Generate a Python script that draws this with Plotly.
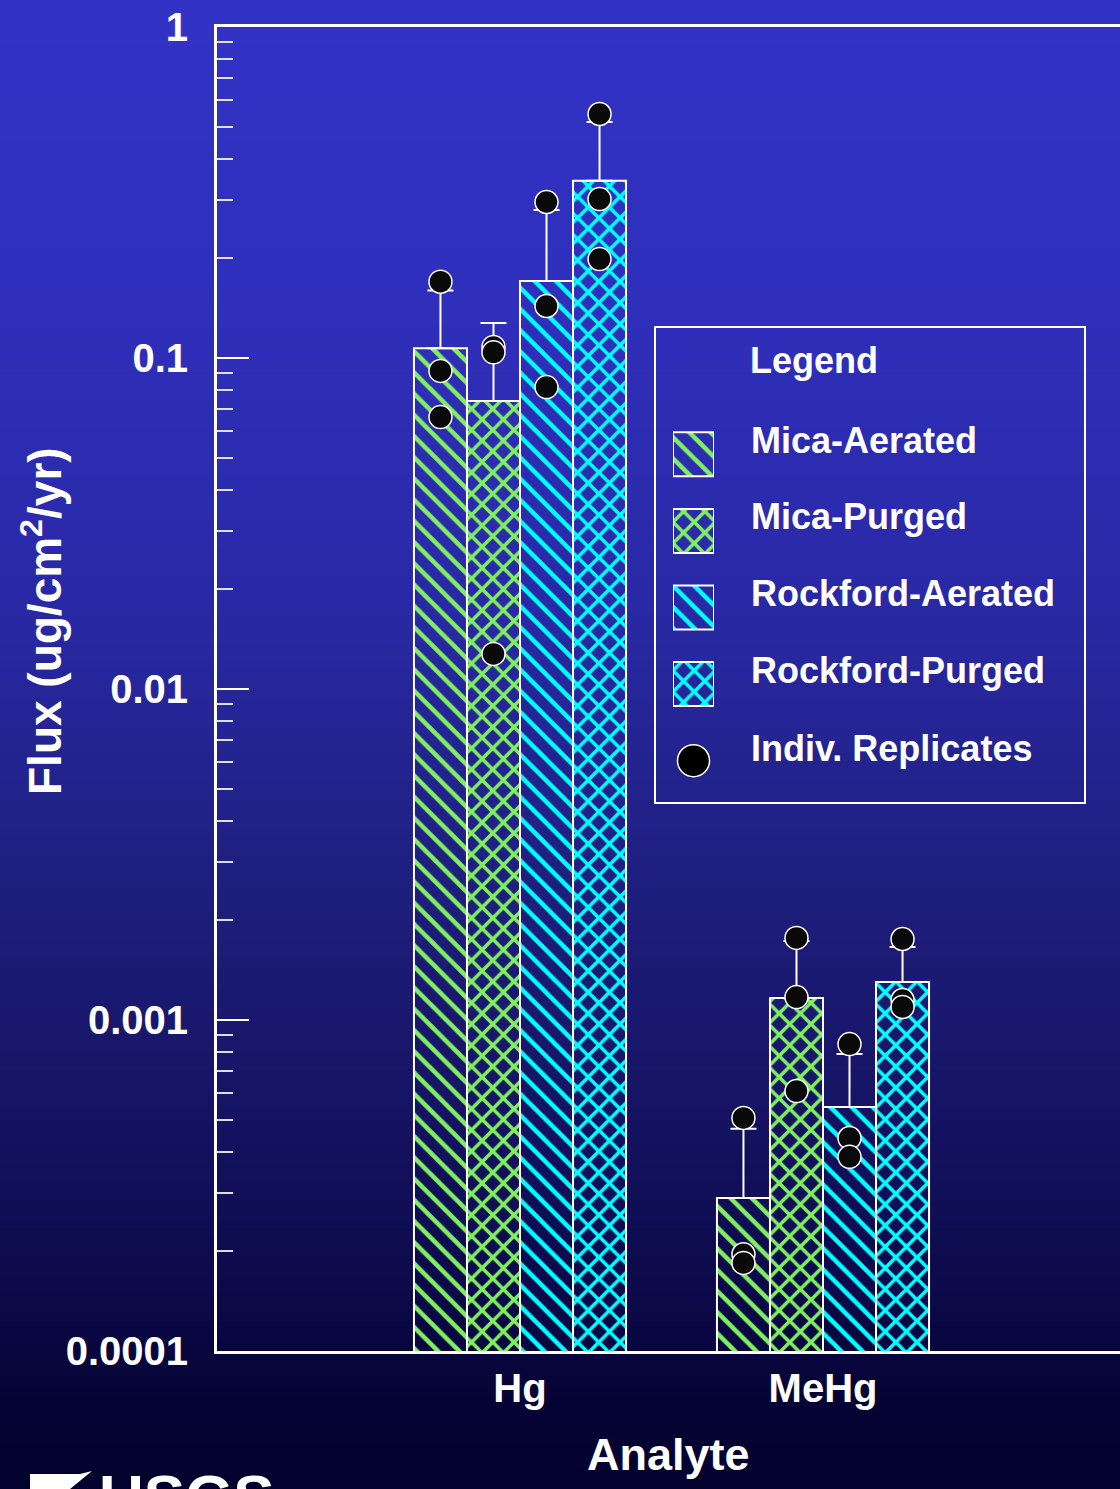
import plotly.graph_objects as go

# ---------------- data ----------------
categories = ["Hg", "MeHg"]
series_names = ["Mica-Aerated", "Mica-Purged", "Rockford-Aerated", "Rockford-Purged"]
replicate_label = "Indiv. Replicates"

# bar heights (mean flux, ug/cm2/yr)
flux_mica_aerated = [0.107, 0.000290]
flux_mica_purged = [0.0741, 0.001165]
flux_rock_aerated = [0.171, 0.000546]
flux_rock_purged = [0.343, 0.001303]

# top of the (upper-only) error bars
upper_mica_aerated = [0.160, 0.000469]
upper_mica_purged = [0.1276, 0.001733]
upper_rock_aerated = [0.280, 0.000789]
upper_rock_purged = [0.516, 0.001663]

# individual replicates
rep_analyte = ["Hg", "Hg", "Hg", "MeHg", "MeHg", "MeHg"]
rep_mica_aerated = [0.170, 0.0914, 0.0663, 0.000506, 0.000196, 0.0001845]
rep_mica_purged = [0.108, 0.104, 0.01276, 0.00177, 0.001173, 0.000610]
rep_rock_aerated = [0.296, 0.1436, 0.0817, 0.000846, 0.000440, 0.000386]
rep_rock_purged = [0.546, 0.302, 0.199, 0.001757, 0.001149, 0.001095]

ytick_vals = [0.0001, 0.001, 0.01, 0.1, 1]
ytick_text = ["0.0001", "0.001", "0.01", "0.1", "1"]

# ---------------- styling ----------------
W, H = 1120, 1489
PL, PT, PR, PB = 217, 27, 1120, 1351
FONT = "Liberation Sans, Arial, Helvetica, sans-serif"
GREEN = "#80f060"
CYAN = "#00ffff"
series_colors = [GREEN, GREEN, CYAN, CYAN]
series_shapes = ["\\", "x", "\\", "x"]
series_pat_size = [15, 15, 15, 15]
series_solidity = [0.3, 0.42, 0.3, 0.42]


def px(xp):
    return (xp - PL) / (PR - PL)


def py(yp):
    return (PB - yp) / (PB - PT)


means = [flux_mica_aerated, flux_mica_purged, flux_rock_aerated, flux_rock_purged]
uppers = [upper_mica_aerated, upper_mica_purged, upper_rock_aerated, upper_rock_purged]
reps = [rep_mica_aerated, rep_mica_purged, rep_rock_aerated, rep_rock_purged]

fig = go.Figure()

for i, name in enumerate(series_names):
    plus = [u - m for u, m in zip(uppers[i], means[i])]
    fig.add_trace(go.Bar(
        x=categories, y=means[i], name=name,
        offsetgroup=str(i), alignmentgroup="main",
        marker=dict(
            color=series_colors[i],
            pattern=dict(shape=series_shapes[i], fgcolor=series_colors[i],
                         bgcolor="rgba(0,0,0,0)", size=series_pat_size[i],
                         solidity=series_solidity[i], fillmode="replace"),
            line=dict(color="white", width=2),
        ),
        error_y=dict(type="data", symmetric=False, array=plus,
                     arrayminus=[0] * len(plus), color="white",
                     thickness=2, width=13),
        showlegend=False,
    ))

for i, name in enumerate(series_names):
    fig.add_trace(go.Scatter(
        x=rep_analyte, y=reps[i], mode="markers",
        offsetgroup=str(i), alignmentgroup="main",
        marker=dict(size=23, color="#0a0a0a", line=dict(color="white", width=1.5)),
        showlegend=False,
    ))

# ---------- legend (inset axes so swatches carry the real patterns) ----------
legend_rows = series_names + [replicate_label]
fig.add_trace(go.Bar(
    y=series_names, x=[1] * len(series_names), orientation="h",
    xaxis="x2", yaxis="y2", width=0.575, base=0,
    marker=dict(
        color=series_colors,
        pattern=dict(shape=series_shapes, fgcolor=series_colors,
                     bgcolor="rgba(0,0,0,0)", size=series_pat_size,
                     solidity=series_solidity, fillmode="replace"),
        line=dict(color="white", width=2),
    ),
    showlegend=False,
))
fig.add_trace(go.Scatter(
    x=[0.5], y=[replicate_label], mode="markers", xaxis="x2", yaxis="y2",
    orientation="h", alignmentgroup="legend",
    marker=dict(size=32, color="#000000", line=dict(color="white", width=1.5)),
    showlegend=False,
))

# ---------- background gradient ----------
stops = [(0, (50, 50, 198)), (300, (47, 47, 188)), (600, (41, 41, 166)),
         (900, (30, 30, 124)), (1100, (22, 20, 100)), (1300, (11, 9, 72)),
         (1400, (5, 3, 52)), (1489, (3, 2, 46))]


def grad(yp):
    for (y0, c0), (y1, c1) in zip(stops[:-1], stops[1:]):
        if y0 <= yp <= y1:
            t = (yp - y0) / (y1 - y0)
            return tuple(round(a + (b - a) * t) for a, b in zip(c0, c1))
    return stops[-1][1]


shapes = []
N = 160
step = H / N
for k in range(N):
    y0 = k * step
    y1 = (k + 1) * step + 1
    r, g, b = grad(y0 + step / 2)
    shapes.append(dict(type="rect", xref="paper", yref="paper", layer="below",
                       x0=px(0), x1=px(W), y0=py(y1), y1=py(y0),
                       fillcolor=f"rgb({r},{g},{b})", line=dict(width=0)))

# legend frame
shapes.append(dict(type="rect", xref="paper", yref="paper",
                   x0=px(655), x1=px(1085), y0=py(803), y1=py(327),
                   line=dict(color="white", width=2), fillcolor="rgba(0,0,0,0)"))

# USGS mark (partially cut by the bottom edge)
mark = [(30, 1474), (80, 1474), (92, 1471), (70, 1489), (30, 1489)]
path = "M " + " L ".join(f"{px(a)},{py(b)}" for a, b in mark) + " Z"
shapes.append(dict(type="path", xref="paper", yref="paper", path=path,
                   fillcolor="white", line=dict(width=0)))

annotations = [
    dict(text="Flux (ug/cm<sup>2</sup>/yr)", textangle=-90, xref="paper", yref="paper",
         x=px(42), y=py(621), xanchor="center", yanchor="middle", showarrow=False,
         font=dict(family=FONT, size=46, color="white", weight="bold")),
    dict(text="Analyte", xref="paper", yref="paper", x=px(668), y=py(1454),
         xanchor="center", yanchor="middle", showarrow=False,
         font=dict(family=FONT, size=45, color="white", weight="bold")),
    dict(text="Legend", xref="paper", yref="paper", x=px(814), y=py(360),
         xanchor="center", yanchor="middle", showarrow=False,
         font=dict(family=FONT, size=36, color="white", weight="bold")),
    dict(text="USGS", xref="paper", yref="paper", x=px(97), y=py(1460),
         xanchor="left", yanchor="top", showarrow=False,
         font=dict(family=FONT, size=62, color="white", weight="bold")),
]
label_shift = [14, 14, 14, 14, 12]
for name, sh in zip(legend_rows, label_shift):
    annotations.append(dict(text=name, xref="paper", yref="y2", x=px(749), y=name,
                            yshift=sh, xanchor="left", yanchor="middle", showarrow=False,
                            font=dict(family=FONT, size=36, color="white", weight="bold")))

fig.update_layout(
    width=W, height=H,
    margin=dict(l=PL, r=W - PR, t=PT, b=H - PB, pad=0),
    paper_bgcolor="rgb(30,30,124)", plot_bgcolor="rgba(0,0,0,0)",
    barmode="group", bargap=0.3, bargroupgap=0,
    scattermode="group", scattergap=0.3,
    showlegend=False,
    font=dict(family=FONT, color="white", weight="bold"),
    shapes=shapes, annotations=annotations,
    xaxis=dict(type="category", categoryorder="array", categoryarray=categories,
               range=[-1, -1 + (PR - PL) / 303.0],
               showline=True, mirror=True, linecolor="white", linewidth=3,
               ticks="", showgrid=False, zeroline=False,
               tickfont=dict(family=FONT, size=40, color="white", weight="bold"),
               ticklabelstandoff=0),
    yaxis=dict(type="log", range=[-4, 0], showline=True, linecolor="white", linewidth=3,
               ticks="inside", ticklen=32, tickwidth=2, tickcolor="white",
               tickmode="array", tickvals=ytick_vals, ticktext=ytick_text,
               showgrid=False, zeroline=False,
               tickfont=dict(family=FONT, size=40, color="white", weight="bold"),
               ticklabelstandoff=18,
               minor=dict(ticks="inside", ticklen=16, tickwidth=2, dtick="D1",
                          tickcolor="rgba(255,255,255,0.85)", showgrid=False)),
    xaxis2=dict(domain=[px(673), px(714)], anchor="y2", range=[0, 1], visible=False,
                fixedrange=True),
    yaxis2=dict(domain=[py(799), py(416)], anchor="x2", type="category",
                categoryorder="array", categoryarray=legend_rows, autorange="reversed",
                visible=False, fixedrange=True),
)

fig.write_html("out.html")
